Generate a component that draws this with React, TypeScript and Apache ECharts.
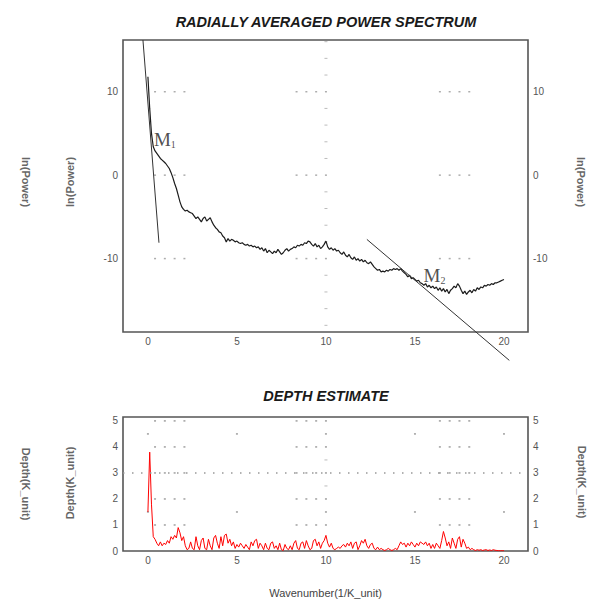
import React, { useEffect, useRef } from "react";
import * as echarts from "echarts";

// ---------- data ----------
const WAVENUMBER_STEP = 0.1;

// ln(Power) read at wavenumber 0.0, 0.1, ... 20.0
const POWER = [
  11.8, 8.0, 5.0, 3.4, 2.9, 2.6, 2.3, 2.0, 1.8, 1.6,
  1.4, 1.1, 0.8, 0.3, -0.3, -1.0, -1.6, -2.4, -3.2, -3.8,
  -4.1, -4.3, -4.2, -4.4, -4.5, -4.6, -4.9, -5.2, -5.0, -5.3,
  -5.6, -5.2, -5.0, -5.5, -5.3, -5.1, -5.6, -6.0, -6.3, -6.5,
  -6.8, -6.9, -7.3, -7.5, -8.0, -7.6, -7.9, -7.7, -7.8, -8.0,
  -7.9, -8.1, -8.2, -8.1, -8.3, -8.4, -8.3, -8.5, -8.4, -8.6,
  -8.5, -8.7, -8.6, -8.9, -8.7, -9.1, -8.8, -9.3, -9.0, -9.2,
  -9.4, -9.1, -9.3, -8.9, -9.2, -9.5, -9.3, -9.0, -8.8, -9.1,
  -8.9, -8.8, -8.6, -8.7, -8.4, -8.5, -8.3, -8.4, -8.1, -8.2,
  -7.9, -8.0, -8.3, -8.5, -8.2, -8.6, -8.4, -8.8, -8.6, -8.3,
  -7.9, -8.6, -8.9, -8.7, -9.0, -8.8, -9.1, -9.0, -9.3, -9.5,
  -9.2, -9.6, -9.8, -9.5, -9.9, -10.1, -9.8, -10.2, -10.0, -10.3,
  -10.1, -10.4, -10.2, -10.5, -10.6, -10.4, -10.7, -11.0, -11.2, -11.4,
  -11.3, -11.6, -11.5, -11.6, -11.4, -11.5, -11.3, -11.4, -11.2, -11.3,
  -11.2, -11.4, -11.2, -11.5, -11.7, -11.9, -12.2, -12.0, -12.4, -12.3,
  -12.5, -12.7, -12.6, -12.9, -13.0, -13.2, -13.0, -13.4, -13.2, -13.5,
  -13.3, -13.6, -13.4, -13.8, -13.5, -13.9, -13.6, -14.0, -13.7, -14.2,
  -13.8, -13.6, -13.3, -13.5, -13.0, -13.3, -13.8, -14.2, -13.9, -14.3,
  -14.0, -13.8, -14.1, -13.7, -13.9, -13.5, -13.7, -13.4, -13.5, -13.2,
  -13.3, -13.1, -13.2, -13.0, -13.1, -12.9, -12.9, -12.8, -12.7, -12.6,
  -12.5,
];

// Depth(K_unit) read at wavenumber 0.0, 0.1, ... 20.0
const DEPTH = [
  1.5, 3.8, 1.8, 0.55, 0.45, 0.3, 0.2, 0.35, 0.2, 0.3,
  0.25, 0.4, 0.3, 0.55, 0.45, 0.6, 0.5, 0.9, 0.7, 0.4,
  0.55, 0.2, 0.05, 0.1, 0.35, 0.1, 0.05, 0.55, 0.2, 0.05,
  0.4, 0.5, 0.1, 0.05, 0.45, 0.2, 0.05, 0.5, 0.6, 0.3,
  0.1, 0.55, 0.2, 0.6, 0.65, 0.3, 0.45, 0.2, 0.35, 0.1,
  0.25, 0.15, 0.3, 0.2, 0.1, 0.25, 0.15, 0.05, 0.35, 0.2,
  0.4, 0.45, 0.1, 0.3, 0.2, 0.05, 0.3, 0.1, 0.05, 0.3,
  0.35, 0.1, 0.2, 0.05, 0.3, 0.05, 0.02, 0.25, 0.1, 0.05,
  0.2, 0.05, 0.3, 0.4, 0.1, 0.05, 0.3, 0.35, 0.1, 0.4,
  0.2, 0.05, 0.1, 0.4, 0.45, 0.2, 0.35, 0.1, 0.3, 0.4,
  0.6, 0.3, 0.15, 0.3, 0.1, 0.05, 0.1, 0.15, 0.1, 0.2,
  0.25, 0.15, 0.3, 0.2, 0.35, 0.1, 0.3, 0.35, 0.05, 0.2,
  0.4, 0.3, 0.45, 0.2, 0.1, 0.25, 0.3, 0.1, 0.05, 0.15,
  0.05, 0.1, 0.05, 0.02, 0.05, 0.1, 0.05, 0.02, 0.05, 0.1,
  0.05, 0.2, 0.35, 0.25, 0.3, 0.15, 0.3, 0.2, 0.35, 0.25,
  0.15, 0.3, 0.2, 0.35, 0.3, 0.25, 0.35, 0.2, 0.3, 0.1,
  0.25, 0.1, 0.3, 0.2, 0.1, 0.4, 0.75, 0.5, 0.2, 0.35,
  0.1, 0.5, 0.3, 0.1, 0.45, 0.55, 0.15, 0.45, 0.3, 0.1,
  0.15, 0.05, 0.1, 0.05, 0.02, 0.05, 0.03, 0.05, 0.02, 0.04,
  0.05, 0.02, 0.04, 0.02, 0.05, 0.03, 0.02, 0.01, 0.01, 0.01,
  0.01,
];

// straight-line fits [wavenumber, ln(Power)]
const FIT_M1 = [[-0.28, 16.2], [0.62, -8.1]];
const FIT_M2 = [[12.3, -7.7], [20.3, -22.2]];
// annotation anchor points
const LABEL_M1 = [0.95, 4.3];
const LABEL_M2 = [16.1, -12.0];

// tick labels
const X_TICKS = [0, 5, 10, 15, 20];
const POWER_TICKS = [-10, 0, 10];
const DEPTH_TICKS = [0, 1, 2, 3, 4, 5];

// dotted grid marks
const GRID_GROUP_X = [0.4, 0.95, 1.5, 2.05, 8.35, 8.9, 9.45, 10, 16.4, 16.95, 17.5, 18.05];
const TOP_GRID_Y = [10, 0, -10];
const TOP_VDASH_Y = [16, 14, 12, 8, 6, 4, 2, -2, -4, -6, -8, -12, -14, -16, -18];
const BOTTOM_GRID_Y = [1, 2, 4, 5];
const BOTTOM_DOT_X = [0, 5, 10, 15, 20];
const BOTTOM_DOT_Y = [4.5, 1.5];
const BOTTOM_VDASH_Y = [3.5, 2.5];

const TITLE_TOP = "RADIALLY AVERAGED POWER SPECTRUM";
const TITLE_BOTTOM = "DEPTH ESTIMATE";

export default function App() {
  const ref = useRef<HTMLDivElement>(null);

  useEffect(() => {
    if (!ref.current) return;
    const chart = echarts.init(ref.current, null, { renderer: "svg" });

    const powerData = POWER.map((v, i) => [+(i * WAVENUMBER_STEP).toFixed(1), v]);
    const depthData = DEPTH.map((v, i) => [+(i * WAVENUMBER_STEP).toFixed(1), v]);

    const topDots: number[][] = [];
    TOP_GRID_Y.forEach((y) => GRID_GROUP_X.forEach((x) => topDots.push([x, y])));
    const topDashes = TOP_VDASH_Y.map((y) => [10, y]);

    const bottomDots: number[][] = [];
    BOTTOM_GRID_Y.forEach((y) => GRID_GROUP_X.forEach((x) => bottomDots.push([x, y])));
    BOTTOM_DOT_Y.forEach((y) => BOTTOM_DOT_X.forEach((x) => bottomDots.push([x, y])));
    GRID_GROUP_X.forEach((x) => bottomDots.push([x, 3]));
    const bottomDashes = BOTTOM_VDASH_Y.map((y) => [10, y]);

    const labelFont = { fontFamily: "Liberation Sans", fontSize: 10, color: "#555" };

    const xAxisBase = {
      type: "value",
      min: -1.4,
      max: 21.35,
      axisLine: { show: false },
      axisTick: { show: false },
      splitLine: { show: false },
      axisLabel: { ...labelFont, customValues: X_TICKS, margin: 4 },
    };
    const yPower = {
      type: "value",
      gridIndex: 0,
      min: -18.8,
      max: 16.2,
      axisLine: { show: false },
      axisTick: { show: false },
      splitLine: { show: false },
      axisLabel: { ...labelFont, customValues: POWER_TICKS, margin: 5 },
    };
    const yDepth = {
      type: "value",
      gridIndex: 1,
      min: 0,
      max: 5.15,
      axisLine: { show: false },
      axisTick: { show: false },
      splitLine: { show: false },
      axisLabel: { ...labelFont, customValues: DEPTH_TICKS, margin: 5 },
    };

    const sideLabel = (text: string, x: number, y: number, rot: number) => ({
      type: "text",
      x,
      y,
      rotation: rot,
      style: {
        text,
        align: "center",
        verticalAlign: "middle",
        fontFamily: "Liberation Sans",
        fontSize: 11,
        fontWeight: "bold",
        fill: "#666",
      },
    });

    const titleStyle = {
      align: "center",
      verticalAlign: "middle",
      fontFamily: "Liberation Sans",
      fontSize: 14.5,
      fontWeight: "bold",
      fontStyle: "italic",
      fill: "#1a1a1a",
    };

    const option: any = {
      animation: false,
      backgroundColor: "#ffffff",
      grid: [
        { left: 123, top: 40, width: 405, height: 292, show: true, borderColor: "#555", borderWidth: 1.6, backgroundColor: "transparent" },
        { left: 123, top: 417, width: 405, height: 135, show: true, borderColor: "#555", borderWidth: 1.6, backgroundColor: "transparent" },
      ],
      xAxis: [
        { ...xAxisBase, gridIndex: 0 },
        {
          ...xAxisBase,
          gridIndex: 1,
          name: "Wavenumber(1/K_unit)",
          nameLocation: "middle",
          nameGap: 36,
          nameTextStyle: { fontFamily: "Liberation Sans", fontSize: 11, color: "#444" },
        },
      ],
      yAxis: [
        { ...yPower, position: "left" },
        { ...yPower, position: "right" },
        { ...yDepth, position: "left" },
        { ...yDepth, position: "right" },
      ],
      graphic: [
        { type: "text", x: 326, y: 22, style: { ...titleStyle, text: TITLE_TOP } },
        { type: "text", x: 326, y: 396, style: { ...titleStyle, text: TITLE_BOTTOM } },
        sideLabel("ln(Power)", 26, 182, -Math.PI / 2),
        sideLabel("ln(Power)", 70, 182, Math.PI / 2),
        sideLabel("ln(Power)", 581, 182, -Math.PI / 2),
        sideLabel("Depth(K_unit)", 26, 484, -Math.PI / 2),
        sideLabel("Depth(K_unit)", 70, 483, Math.PI / 2),
        sideLabel("Depth(K_unit)", 582, 482, -Math.PI / 2),
      ],
      series: [
        {
          type: "scatter",
          xAxisIndex: 0,
          yAxisIndex: 0,
          data: topDots,
          symbol: "rect",
          symbolSize: [2, 1.5],
          itemStyle: { color: "#999" },
          silent: true,
        },
        {
          type: "scatter",
          xAxisIndex: 0,
          yAxisIndex: 0,
          data: topDashes,
          symbol: "rect",
          symbolSize: [3, 1],
          itemStyle: { color: "#aaa" },
          silent: true,
        },
        {
          type: "line",
          xAxisIndex: 0,
          yAxisIndex: 0,
          data: powerData,
          showSymbol: false,
          lineStyle: { color: "#1c1c1c", width: 1.2 },
        },
        {
          type: "line",
          xAxisIndex: 0,
          yAxisIndex: 0,
          data: FIT_M1,
          showSymbol: false,
          clip: false,
          lineStyle: { color: "#333", width: 1 },
        },
        {
          type: "line",
          xAxisIndex: 0,
          yAxisIndex: 0,
          data: FIT_M2,
          showSymbol: false,
          clip: false,
          lineStyle: { color: "#333", width: 1 },
        },
        {
          type: "scatter",
          xAxisIndex: 0,
          yAxisIndex: 0,
          data: [
            { value: LABEL_M1, name: "M1" },
            { value: LABEL_M2, name: "M2" },
          ],
          symbolSize: 1,
          itemStyle: { color: "rgba(0,0,0,0)" },
          label: {
            show: true,
            position: "inside",
            formatter: (p: any) => (p.name === "M1" ? "{m|M}{s|1}" : "{m|M}{s|2}"),
            rich: {
              m: { fontFamily: "Liberation Serif", fontSize: 19, color: "#222", lineHeight: 20 },
              s: { fontFamily: "Liberation Serif", fontSize: 10, color: "#222", verticalAlign: "bottom", lineHeight: 14 },
            },
          },
          silent: true,
        },
        {
          type: "scatter",
          xAxisIndex: 1,
          yAxisIndex: 2,
          data: bottomDots,
          symbol: "rect",
          symbolSize: [2, 1.5],
          itemStyle: { color: "#888" },
          silent: true,
          markLine: {
            silent: true,
            symbol: "none",
            label: { show: false },
            lineStyle: { color: "#999", width: 1.5, type: [1.5, 7.5] },
            data: [{ yAxis: 3 }],
          },
        },
        {
          type: "scatter",
          xAxisIndex: 1,
          yAxisIndex: 2,
          data: bottomDashes,
          symbol: "rect",
          symbolSize: [3, 1],
          itemStyle: { color: "#aaa" },
          silent: true,
        },
        {
          type: "line",
          xAxisIndex: 1,
          yAxisIndex: 2,
          data: depthData,
          showSymbol: false,
          lineStyle: { color: "#ff0000", width: 1 },
        },
      ],
    };

    chart.setOption(option);
    return () => chart.dispose();
  }, []);

  return (
    <div
      ref={ref}
      style={{ position: "fixed", left: 0, top: 0, width: 590, height: 599, background: "#fff" }}
    />
  );
}
